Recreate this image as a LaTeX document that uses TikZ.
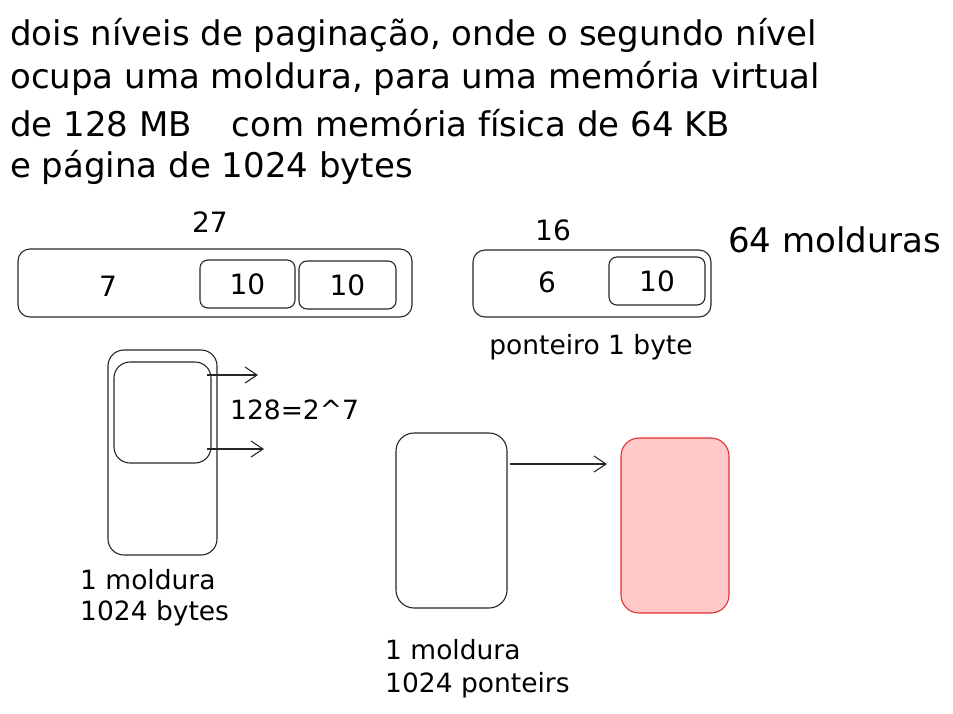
\documentclass[tikz,border=0pt]{standalone}
\usepackage{fontspec}
\setmainfont{DejaVu Sans}
\usetikzlibrary{arrows.meta}
\definecolor{redfill}{HTML}{FFC9C9}
\definecolor{redline}{HTML}{E03131}
\tikzset{
  sk/.style={draw=black!85, line width=1.1pt, rounded corners=#1, inner sep=0pt},
  sk/.default=10pt,
  big/.style={font=\fontsize{34}{40}\selectfont, inner sep=0pt},
  lbl/.style={font=\fontsize{28}{32}\selectfont, inner sep=0pt},
  sml/.style={font=\fontsize{26.5}{30}\selectfont, inner sep=0pt},
  arr/.style={draw=black!85, line width=1.1pt, -{Straight Barb[length=12pt,width=16pt,line width=1.1pt]}},
}
\begin{document}
\begin{tikzpicture}[x=1pt,y=-1pt]
\useasboundingbox (0,0) rectangle (953,713);
% title
\node[big, anchor=west] (t1) at (10,35) {dois níveis de paginação, onde o segundo nível};
\node[big, anchor=west] (t2) at (10,78) {ocupa uma moldura, para uma memória virtual};
\node[big, anchor=west] (t3) at (10,123) {de 128 MB\hspace{40pt}com memória física de 64 KB};
\node[big, anchor=west] (t4) at (10,167) {e página de 1024 bytes};
% virtual address
\node[lbl] (n27) at (210,222) {27};
\node[sk=12pt, minimum width=394pt, minimum height=68pt] (va) at (215,283) {};
\node[lbl] (n7) at (108,286) {7};
\node[sk=8pt, minimum width=95pt, minimum height=48pt] (va1) at (247.5,284) {};
\node[lbl] at (va1) {10};
\node[sk=8pt, minimum width=97pt, minimum height=48pt] (va2) at (347.5,285) {};
\node[lbl] at (va2) {10};
% physical address
\node[lbl] (n16) at (553,230) {16};
\node[sk=12pt, minimum width=238pt, minimum height=67pt] (pa) at (592,283.5) {};
\node[lbl] (n6) at (547,282) {6};
\node[sk=8pt, minimum width=96pt, minimum height=48pt] (pa1) at (657,281) {};
\node[lbl] at (pa1) {10};
\node[sml] (pt) at (591,347) {ponteiro 1 byte};
\node[big, anchor=west] (m64) at (728,240) {64 molduras};
% left frame
\node[sk=16pt, minimum width=109pt, minimum height=205pt] (fr) at (162.5,452.5) {};
\node[sk=16pt, minimum width=97pt, minimum height=101pt] (in) at (162.5,412.5) {};
\coordinate (a1s) at (207,375);
\coordinate (a1e) at (258,375);
\coordinate (a2s) at (207,449);
\coordinate (a2e) at (264,449);
\draw[arr] (a1s) -- (a1e);
\draw[arr] (a2s) -- (a2e);
\node[sml, anchor=west] (p128) at (230,410) {128=2\^{}7};
\node[sml, anchor=west] (lm1) at (80,580) {1 moldura};
\node[sml, anchor=west] (lm2) at (80,613) {1024 bytes};
% middle and red frame
\node[sk=18pt, minimum width=111pt, minimum height=175pt] (mid) at (451.5,520.5) {};
\node[sk=18pt, draw=redline, fill=redfill, minimum width=108pt, minimum height=175pt] (red) at (675,525.5) {};
\coordinate (a3s) at (510,464);
\coordinate (a3e) at (607,464);
\draw[arr] (a3s) -- (a3e);
\node[sml, anchor=west] (rm1) at (385,650) {1 moldura};
\node[sml, anchor=west] (rm2) at (385,685) {1024 ponteirs};
\end{tikzpicture}
\end{document}
